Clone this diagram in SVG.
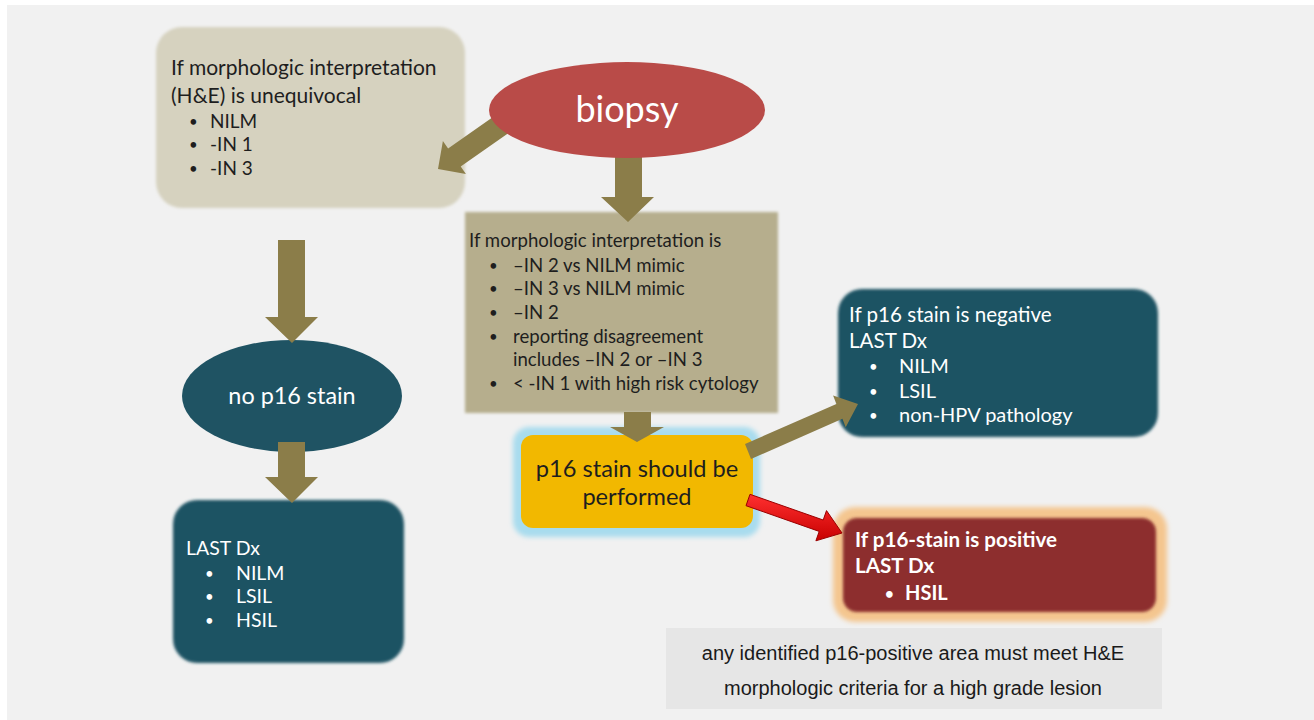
<svg xmlns="http://www.w3.org/2000/svg" width="1314" height="720" viewBox="0 0 1314 720">
<defs>
<filter id="soft" x="-10%" y="-10%" width="120%" height="120%"><feGaussianBlur stdDeviation="1.6"/></filter>
<filter id="glow" x="-10%" y="-10%" width="120%" height="120%"><feGaussianBlur stdDeviation="2.5"/></filter>
<linearGradient id="redg" x1="0" y1="0" x2="0" y2="1">
<stop offset="0" stop-color="#ff3030"/>
<stop offset="1" stop-color="#c80000"/>
</linearGradient>
<style>
text{font-family:Lato,"Open Sans","Liberation Sans",sans-serif;}
.dk{fill:#1e1e1e;}
.wt{fill:#ffffff;}
.b{font-weight:bold;}
.bul{font-size:15px;}
.arrow{fill:#8b7d49;}
.red{fill:url(#redg);stroke:#9a0000;stroke-width:1;}
.foot{font-family:"Liberation Sans",Arial,sans-serif;font-size:20px;fill:#1a1a1a;}
</style>
</defs>
<rect x="0" y="0" width="1314" height="720" fill="#ffffff"/>
<rect x="7" y="5" width="1307" height="715" fill="#f1f1f1"/>

<g id="node-unequivocal">
<rect x="156" y="27" width="309" height="181" rx="26" fill="#d6d2bf" filter="url(#soft)"/>
<text class="dk" font-size="21"><tspan x="171" y="75">If morphologic interpretation</tspan><tspan x="171" y="103">(H&amp;E) is unequivocal</tspan></text>
<text class="dk bul"><tspan x="189" y="127">•</tspan><tspan x="189" y="150">•</tspan><tspan x="189" y="174">•</tspan></text>
<text class="dk" font-size="19"><tspan x="210" y="128">NILM</tspan><tspan x="210" y="151">-IN 1</tspan><tspan x="210" y="175">-IN 3</tspan></text>
</g>

<g id="node-interpretation">
<rect x="465" y="212" width="313" height="201" fill="#b6ae8d" filter="url(#soft)"/>
<text class="dk" font-size="18.6"><tspan x="469" y="247">If morphologic interpretation is</tspan></text>
<text class="dk bul"><tspan x="489" y="271">•</tspan><tspan x="489" y="294">•</tspan><tspan x="489" y="318">•</tspan><tspan x="489" y="342">•</tspan><tspan x="489" y="389">•</tspan></text>
<text class="dk" font-size="18.6"><tspan x="513" y="272">–IN 2 vs NILM mimic</tspan><tspan x="513" y="295">–IN 3 vs NILM mimic</tspan><tspan x="513" y="319">–IN 2</tspan><tspan x="513" y="343">reporting disagreement</tspan><tspan x="513" y="366">includes –IN 2 or –IN 3</tspan><tspan x="513" y="390">&lt; -IN 1 with high risk cytology</tspan></text>
</g>

<g id="node-p16-perform">
<rect x="513" y="427" width="247" height="110" rx="16" fill="#a8dcee" filter="url(#glow)"/>
<rect x="521" y="435" width="232" height="93" rx="12" fill="#f2b800"/>
<text class="dk" font-size="23.6" text-anchor="middle"><tspan x="637" y="477">p16 stain should be</tspan><tspan x="637" y="505">performed</tspan></text>
</g>

<g id="node-negative">
<rect x="838" y="289" width="320" height="148" rx="24" fill="#1f5363" filter="url(#soft)"/>
<text class="wt" font-size="20.6"><tspan x="849" y="322">If p16 stain is negative</tspan><tspan x="849" y="348">LAST Dx</tspan></text>
<text class="wt bul"><tspan x="869" y="372">•</tspan><tspan x="869" y="397">•</tspan><tspan x="869" y="421">•</tspan></text>
<text class="wt" font-size="20"><tspan x="899" y="373">NILM</tspan><tspan x="899" y="398">LSIL</tspan><tspan x="899" y="422">non-HPV pathology</tspan></text>
</g>

<g id="node-positive">
<rect x="833" y="507" width="334" height="115" rx="22" fill="#f4c68f" filter="url(#glow)"/>
<rect x="843" y="518" width="313" height="94" rx="14" fill="#8d2f2f" filter="url(#soft)"/>
<text class="wt b" font-size="20.6"><tspan x="855" y="547">If p16-stain is positive</tspan><tspan x="855" y="573">LAST Dx</tspan></text>
<text class="wt b bul"><tspan x="885" y="599">•</tspan></text>
<text class="wt b" font-size="20"><tspan x="905" y="600">HSIL</tspan></text>
</g>

<g id="node-no-p16">
<ellipse cx="292" cy="396" rx="110" ry="56" fill="#1f5363"/>
<text class="wt" font-size="23.4" text-anchor="middle" x="292" y="404">no p16 stain</text>
</g>

<g id="node-last-left">
<rect x="173" y="500" width="231" height="163" rx="24" fill="#1f5363" filter="url(#soft)"/>
<text class="wt" font-size="19.5"><tspan x="186" y="555">LAST Dx</tspan></text>
<text class="wt bul"><tspan x="205" y="579">•</tspan><tspan x="205" y="602">•</tspan><tspan x="205" y="626">•</tspan></text>
<text class="wt" font-size="19.5"><tspan x="236" y="580">NILM</tspan><tspan x="236" y="603">LSIL</tspan><tspan x="236" y="627">HSIL</tspan></text>
</g>

<g id="node-footnote">
<rect x="666" y="628" width="496" height="81" fill="#e6e6e6"/>
<text class="foot" text-anchor="middle"><tspan x="913" y="660">any identified p16-positive area must meet H&amp;E</tspan><tspan x="913" y="695">morphologic criteria for a high grade lesion</tspan></text>
</g>

<g id="connectors">
<polygon class="arrow" points="511.3,131 498.7,113 448.1,148.5 442.9,141.1 438,169 465.9,173.9 460.7,166.5"/>
<polygon class="arrow" points="615,150 642,150 642,197 654,197 628,222 601,197 615,197"/>
<polygon class="arrow" points="624,412 651,412 651,427 664,427 637,442 610,427 624,427"/>
<polygon class="arrow" points="278,240 305,240 305,317 318,317 292,343 265,317 278,317"/>
<polygon class="arrow" points="278,442 305,442 305,477 318,477 292,503 265,477 278,477"/>
<polygon class="arrow" points="751,459 745,444 836.4,404 833.1,395.6 858,404 845.7,427.2 842.4,418.8"/>
<polygon class="red" points="746,505.7 750,494.3 823.2,520 826.5,510.6 842,533 815.9,540.8 819.2,531.4"/>
</g>

<g id="node-biopsy">
<ellipse cx="627" cy="110" rx="138" ry="48" fill="#b94b48"/>
<text class="wt" font-size="36" text-anchor="middle" x="627" y="122">biopsy</text>
</g>
</svg>
